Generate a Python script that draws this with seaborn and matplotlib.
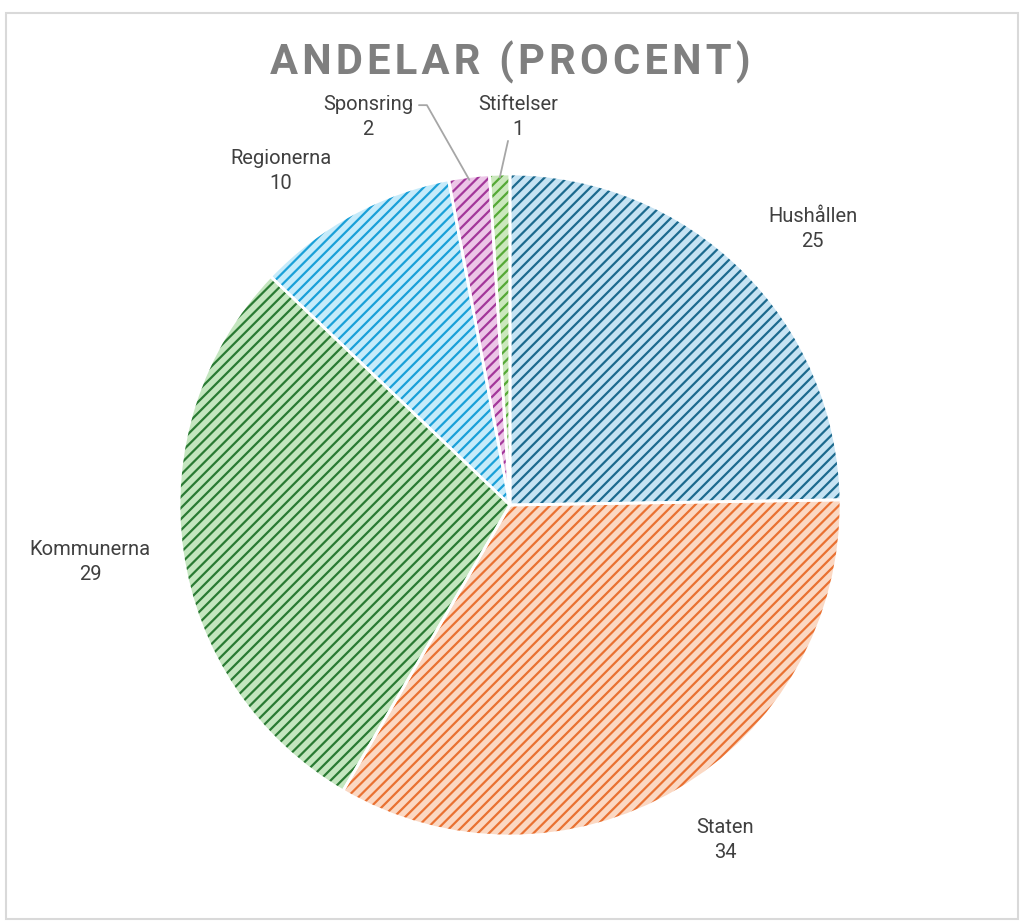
# Pie chart: Andelar (procent)
#====================================================================================

import numpy as np
import seaborn as sns
from matplotlib import pyplot as plt
from matplotlib.patches import Rectangle

# Data
categories = ['Hushållen', 'Staten', 'Kommunerna', 'Regionerna', 'Sponsring', 'Stiftelser']
values = [25, 34, 29, 10, 2, 1]
title = 'ANDELAR (PROCENT)'

# Colours (light face + darker hatch)
face_colors = ['#c6e3f3', '#fbd8c3', '#c4e6bf', '#c6ebfa', '#ecc6e7', '#cbe8bd']
hatch_colors = ['#1c6a8e', '#e97132', '#2a7a33', '#1aa0d8', '#a3379a', '#55a936']

# Label positions (data coords, pie radius = 1)
label_xy = {
    'Hushållen': (0.915, 0.834),
    'Staten': (0.65, -1.012),
    'Kommunerna': (-1.269, -0.172),
    'Regionerna': (-0.692, 1.009),
    'Sponsring': (-0.429, 1.172),
    'Stiftelser': (0.024, 1.172),
}
# leader line start points for small slices
leader_start = {
    'Sponsring': [(-0.275, 1.208), (-0.251, 1.208)],
    'Stiftelser': [(-0.006, 1.10)],
}

sns.set_theme(style='white')
plt.rcParams['font.family'] = ['Roboto', 'DejaVu Sans']
plt.rcParams['hatch.linewidth'] = 1.6

W, H = 1024, 923
fig = plt.figure(figsize=(W / 100, H / 100), dpi=100)

# place axes so that pie centre is at (510, 505) px with radius 331 px
cx, cy, r = 510, 505, 331
ax = fig.add_axes([(cx - r) / W, (H - cy - r) / H, 2 * r / W, 2 * r / H])

# 1) faces
wedges, _ = ax.pie(values, startangle=90, counterclock=False, colors=face_colors,
                   wedgeprops=dict(linewidth=0))
# 2) hatch overlay
hatched, _ = ax.pie(values, startangle=90, counterclock=False,
                    wedgeprops=dict(linewidth=0, facecolor='none'))
for w, hc in zip(hatched, hatch_colors):
    w.set_edgecolor(hc)
    w.set_hatch('///')
# 3) white borders
borders, _ = ax.pie(values, startangle=90, counterclock=False,
                    wedgeprops=dict(linewidth=2, facecolor='none', edgecolor='white'))

ax.set_xlim(-1, 1)
ax.set_ylim(-1, 1)
ax.set_aspect('equal')
ax.axis('off')

# Data labels
for w, cat, val in zip(wedges, categories, values):
    x, y = label_xy[cat]
    ax.text(x, y, f'{cat}\n{val}', ha='center', va='center', fontsize=14.5,
            color='#404040', linespacing=1.45, clip_on=False)
    if cat in leader_start:
        mid = np.deg2rad((w.theta1 + w.theta2) / 2)
        pts = leader_start[cat] + [(np.cos(mid) * 0.99, np.sin(mid) * 0.99)]
        xs, ys = zip(*pts)
        ax.plot(xs, ys, color='#a6a6a6', lw=1.3, clip_on=False)

# Title (letter-spaced with hair spaces)
spaced_title = '\u200a'.join(title)
fig.text(cx / W, 1 - 62 / H, spaced_title, ha='center', va='center',
         fontsize=30, fontweight='bold', color='#7f7f7f')

# Chart frame
fig.patches.append(Rectangle((6 / W, 4 / H), 1012 / W, 906 / H, transform=fig.transFigure,
                             fill=False, edgecolor='#d9d9d9', lw=1.5))

fig.savefig('out.png', dpi=100)
